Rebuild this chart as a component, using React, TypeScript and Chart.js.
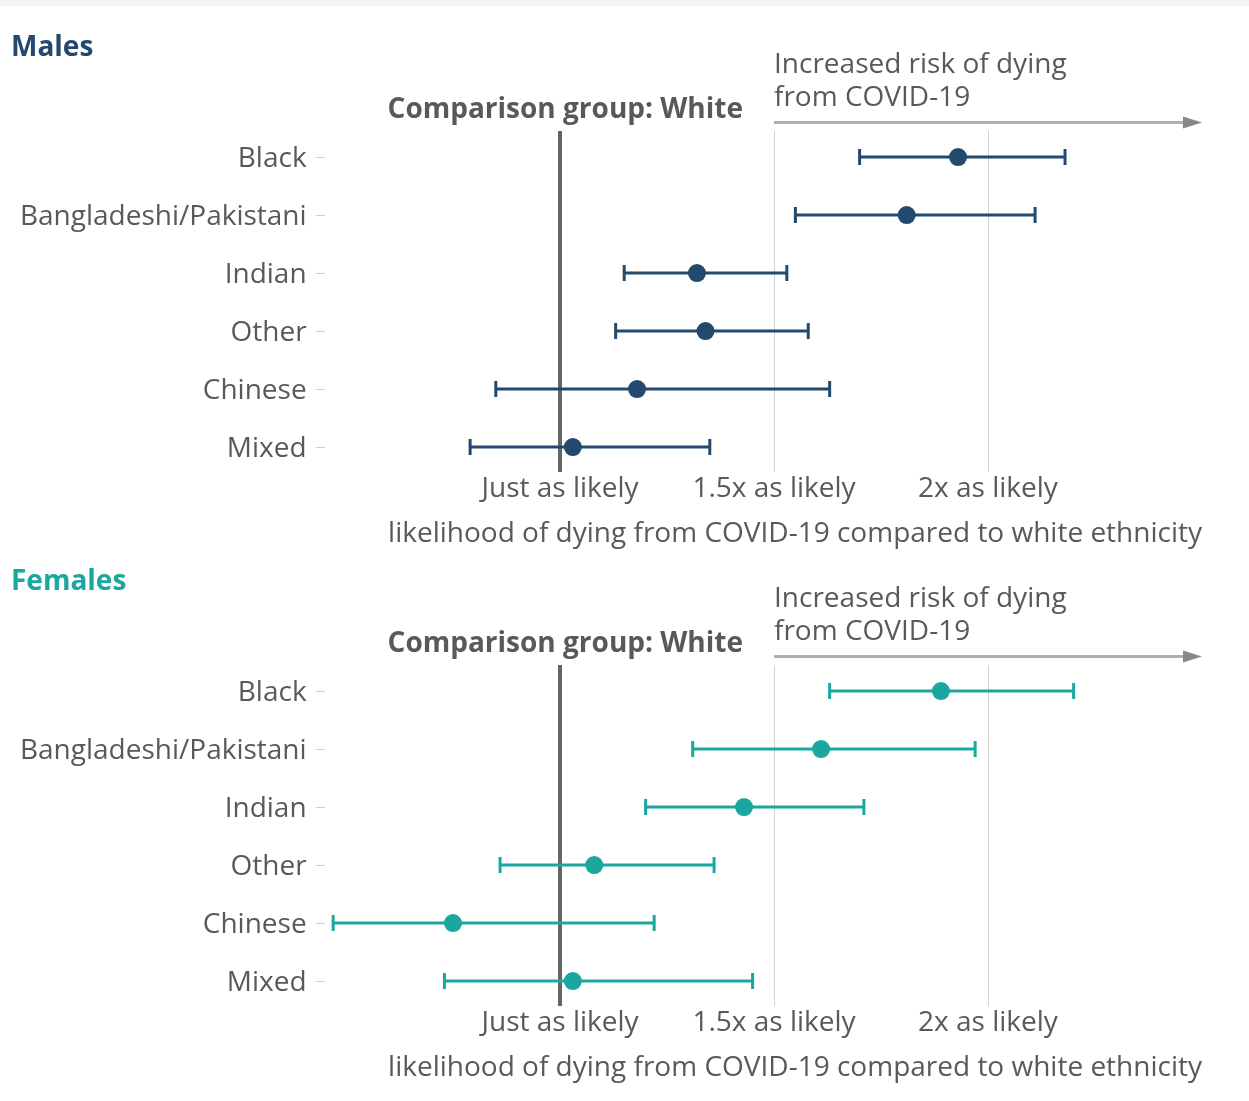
import React, { useEffect, useRef } from 'react';
import { Chart, registerables } from 'chart.js';

Chart.register(...registerables);

// Ethnic groups, top to bottom
const categories = ['Black', 'Bangladeshi/Pakistani', 'Indian', 'Other', 'Chinese', 'Mixed'];

// Males: odds of dying vs. White, with confidence interval bounds
const maleEstimate = [1.93, 1.81, 1.32, 1.34, 1.18, 1.03];
const maleLower = [1.70, 1.55, 1.15, 1.13, 0.85, 0.79];
const maleUpper = [2.18, 2.11, 1.53, 1.58, 1.63, 1.35];

// Females
const femaleEstimate = [1.89, 1.61, 1.43, 1.08, 0.75, 1.03];
const femaleLower = [1.63, 1.31, 1.20, 0.86, 0.47, 0.73];
const femaleUpper = [2.20, 1.97, 1.71, 1.36, 1.22, 1.45];

// x-axis ticks
const xTickValues = [1, 1.5, 2];
const xTickLabels = ['Just as likely', '1.5x as likely', '2x as likely'];

const FONT = '"Open Sans", "Noto Sans", sans-serif';
const FONT_SIZE = 28;
const TEXT = '#595959';
const MALE_COLOR = '#23496e';
const FEMALE_COLOR = '#19a79f';

const panelAnnotations = {
  id: 'panelAnnotations',
  afterDraw(chart: any, _args: any, opts: any) {
    const { ctx, chartArea, scales } = chart;
    const riskX = scales.x.getPixelForValue(1.5);
    ctx.save();
    ctx.textBaseline = 'middle';

    // panel heading
    ctx.font = `bold ${FONT_SIZE}px ${FONT}`;
    ctx.fillStyle = opts.color;
    ctx.textAlign = 'left';
    ctx.fillText(opts.title, 11, 28);

    // reference group label
    ctx.fillStyle = TEXT;
    ctx.textAlign = 'right';
    ctx.fillText('Comparison group: White', riskX - 31, 90);

    // direction note
    ctx.font = `${FONT_SIZE}px ${FONT}`;
    ctx.textAlign = 'left';
    ctx.fillText('Increased risk of dying', riskX, 45);
    ctx.fillText('from COVID-19', riskX, 78);

    // arrow
    const ay = chartArea.top - 8.5;
    const headStart = chartArea.right - 19;
    ctx.strokeStyle = '#b0b0b0';
    ctx.lineWidth = 3;
    ctx.beginPath();
    ctx.moveTo(riskX, ay);
    ctx.lineTo(headStart + 2, ay);
    ctx.stroke();
    ctx.fillStyle = '#888888';
    ctx.beginPath();
    ctx.moveTo(headStart, ay - 6);
    ctx.lineTo(chartArea.right, ay);
    ctx.lineTo(headStart, ay + 6);
    ctx.closePath();
    ctx.fill();
    ctx.restore();
  },
};

function buildConfig(title: string, color: string, estimate: number[], lower: number[], upper: number[]): any {
  const points = {
    data: categories.map((_, i) => ({ x: estimate[i], y: i })),
    pointRadius: 9,
    pointHoverRadius: 9,
    pointBackgroundColor: color,
    pointBorderWidth: 0,
    showLine: false,
  };
  const whiskers = categories.map((_, i) => ({
    data: [
      { x: lower[i], y: i },
      { x: upper[i], y: i },
    ],
    showLine: true,
    borderColor: color,
    borderWidth: 3,
    pointStyle: 'line',
    pointRotation: 90,
    pointRadius: 8,
    pointHoverRadius: 8,
    pointBorderColor: color,
    pointBorderWidth: 3,
  }));

  const tickFont = { family: FONT, size: FONT_SIZE, lineHeight: 1 };

  return {
    type: 'scatter',
    data: { datasets: [points, ...whiskers] },
    plugins: [panelAnnotations],
    options: {
      responsive: false,
      animation: false,
      events: [],
      layout: { padding: { top: 111, right: 47, bottom: 0, left: 0 } },
      plugins: {
        legend: { display: false },
        tooltip: { enabled: false },
        panelAnnotations: { title, color },
      },
      scales: {
        x: {
          type: 'linear',
          min: 0.45,
          max: 2.5,
          afterBuildTicks: (s: any) => {
            s.ticks = xTickValues.map((v) => ({ value: v }));
          },
          afterFit: (s: any) => {
            s.height = 82;
          },
          grid: {
            drawTicks: false,
            color: (c: any) => (c.tick && c.tick.value === 1 ? '#666666' : '#d2d2d2'),
            lineWidth: (c: any) => (c.tick && c.tick.value === 1 ? 4 : 1),
          },
          border: { display: false },
          ticks: {
            autoSkip: false,
            maxRotation: 0,
            padding: 3,
            color: TEXT,
            font: tickFont,
            callback: (v: number) => {
              const k = xTickValues.indexOf(v);
              return k >= 0 ? xTickLabels[k] : '';
            },
          },
          title: {
            display: true,
            text: 'likelihood of dying from COVID-19 compared to white ethnicity',
            align: 'end',
            color: TEXT,
            font: tickFont,
            padding: { top: 0, bottom: 6 },
          },
        },
        y: {
          type: 'linear',
          reverse: true,
          min: -0.45,
          max: 5.43,
          afterBuildTicks: (s: any) => {
            s.ticks = categories.map((_, i) => ({ value: i }));
          },
          afterFit: (s: any) => {
            s.width = 324.6;
          },
          grid: {
            drawOnChartArea: false,
            drawTicks: true,
            tickLength: 9,
            color: '#cfcfcf',
            lineWidth: 1,
          },
          border: { display: false },
          ticks: {
            padding: 9,
            labelOffset: 1.5,
            color: TEXT,
            font: tickFont,
            callback: (v: number) => categories[v] ?? '',
          },
        },
      },
    },
  };
}

function Panel(props: { title: string; color: string; estimate: number[]; lower: number[]; upper: number[] }) {
  const ref = useRef<HTMLCanvasElement>(null);
  useEffect(() => {
    const chart = new Chart(
      ref.current as HTMLCanvasElement,
      buildConfig(props.title, props.color, props.estimate, props.lower, props.upper)
    );
    return () => chart.destroy();
  }, []);
  return <canvas ref={ref} width={1249} height={534} style={{ display: 'block', width: 1249, height: 534 }} />;
}

export default function App() {
  useEffect(() => {
    document.body.style.margin = '0';
    document.body.style.background = '#ffffff';
  }, []);
  return (
    <div style={{ width: 1249, background: '#ffffff' }}>
      <div style={{ height: 6, background: '#f2f3f5' }} />
      <div style={{ height: 14 }} />
      <Panel title="Males" color={MALE_COLOR} estimate={maleEstimate} lower={maleLower} upper={maleUpper} />
      <Panel title="Females" color={FEMALE_COLOR} estimate={femaleEstimate} lower={femaleLower} upper={femaleUpper} />
    </div>
  );
}
